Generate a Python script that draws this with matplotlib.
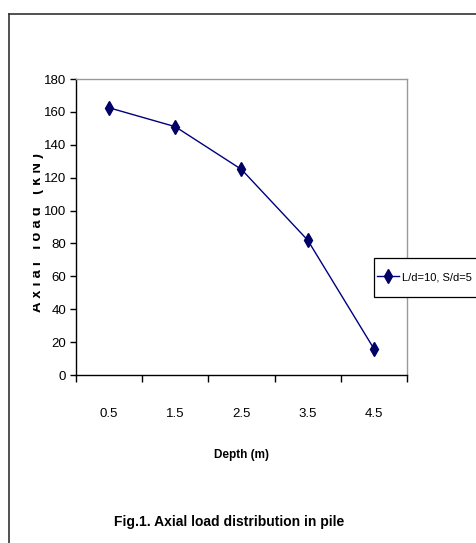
import matplotlib
matplotlib.use("Agg")
import matplotlib.pyplot as plt
from matplotlib.lines import Line2D
from matplotlib.patches import Rectangle
from matplotlib.transforms import Bbox

plt.rcParams['font.family'] = ['Liberation Sans', 'DejaVu Sans']

depth_labels = ["0.5", "1.5", "2.5", "3.5", "4.5"]
axial_load = [162.5, 151, 125, 82, 16]
series_name = "L/d=10, S/d=5"
y_ticks = [0, 20, 40, 60, 80, 100, 120, 140, 160, 180]

W, H = 477, 543
fig = plt.figure(figsize=(W / 100, H / 100), dpi=100)
fig.patch.set_facecolor('white')

# outer frame (left and top edges visible)
fig.add_artist(Line2D([9 / W, 9 / W], [0, 1 - 14 / H], transform=fig.transFigure, color='#333333', lw=1.2))
fig.add_artist(Line2D([9 / W, 1], [1 - 14 / H, 1 - 14 / H], transform=fig.transFigure, color='#333333', lw=1.2))

ax = fig.add_axes([76 / W, 1 - 375 / H, (407 - 76) / W, (375 - 79) / H])
x = [i + 0.5 for i in range(len(depth_labels))]
ax.plot(x, axial_load, color='#000080', lw=1.0, marker='d', markersize=7,
        markerfacecolor='#000066', markeredgecolor='#000066', label=series_name)

ax.set_xlim(0, len(depth_labels))
ax.set_ylim(0, 180)
ax.set_yticks(y_ticks)
ax.set_yticklabels([str(v) for v in y_ticks], fontsize=9.5)
ax.set_xticks(range(len(depth_labels) + 1))
ax.set_xticklabels([])
ax.set_xticks(x, minor=True)
ax.set_xticklabels(depth_labels, minor=True, fontsize=9.5)
ax.tick_params(axis='x', which='major', length=5, direction='out', width=1)
ax.tick_params(axis='x', which='minor', length=0, pad=24)
ax.tick_params(axis='y', length=4, direction='out', width=1, pad=3)

for s in ['top', 'right']:
    ax.spines[s].set_color('#999999')
    ax.spines[s].set_linewidth(1)
for s in ['left', 'bottom']:
    ax.spines[s].set_color('black')
    ax.spines[s].set_linewidth(1)

# legend box
fig.add_artist(Rectangle((374 / W, 1 - 297 / H), (120) / W, 39 / H, transform=fig.transFigure,
                         facecolor='white', edgecolor='black', lw=0.9, zorder=5))
leg = fig.legend(loc='center left', bbox_to_anchor=(377 / W, 1 - 277 / H), frameon=False,
                 fontsize=8, handlelength=2.0, handletextpad=0.25, borderpad=0, borderaxespad=0)
leg.set_zorder(6)

# y label (partially clipped like the original)
yl = fig.text(41 / W, 1 - 232 / H, "A x i a l   l o a d   ( k N )", rotation=90,
              ha='center', va='baseline', fontsize=10.5, fontweight='bold',
              rotation_mode='anchor')
yl.set_clip_box(Bbox.from_extents(33, 0, 60, H))
yl.set_clip_on(True)

fig.text(241 / W, 1 - 455 / H, "Depth (m)", ha='center', va='center', fontsize=8.5, fontweight='bold')
fig.text(229 / W, 1 - 522 / H, "Fig.1. Axial load distribution in pile", ha='center', va='center',
         fontsize=10, fontweight='bold')

fig.savefig("out.png", dpi=100)
